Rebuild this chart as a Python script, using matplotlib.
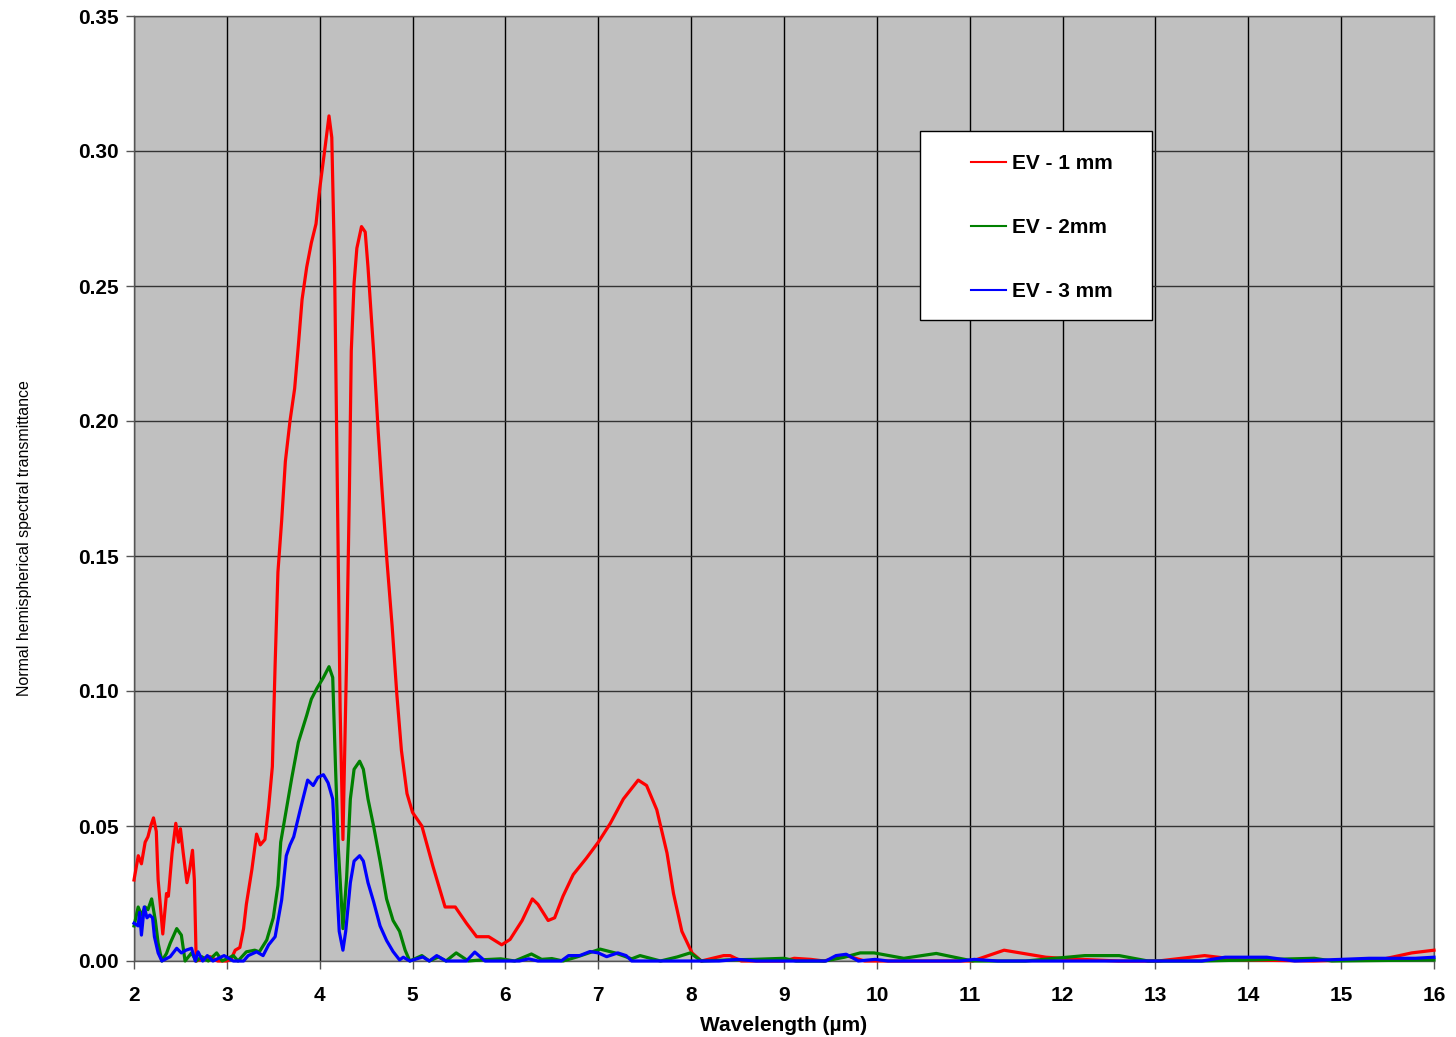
import matplotlib
matplotlib.use("Agg")
import numpy as np
import matplotlib.pyplot as plt
from matplotlib.lines import Line2D
from matplotlib.patches import Rectangle
from matplotlib.legend_handler import HandlerLine2D

# ---------------- data ----------------
red_x = [2.0, 2.046, 2.08, 2.12, 2.15, 2.18, 2.21, 2.24, 2.26, 2.31, 2.35, 2.37, 2.41, 2.45, 2.48, 2.50,
         2.53, 2.57, 2.60, 2.63, 2.65, 2.67, 2.75, 2.82, 2.9, 3.0, 3.05, 3.09, 3.14, 3.18, 3.21, 3.27,
         3.32, 3.36, 3.41, 3.45, 3.49, 3.52, 3.55, 3.59, 3.63, 3.68, 3.73, 3.77, 3.81, 3.86, 3.91, 3.96,
         4.0, 4.06, 4.10, 4.13, 4.16, 4.19, 4.22, 4.25, 4.29, 4.32, 4.34, 4.37, 4.40, 4.45, 4.49, 4.52,
         4.58, 4.63, 4.67, 4.72, 4.78, 4.83, 4.88, 4.94, 5.0, 5.10, 5.22, 5.35, 5.46, 5.58, 5.69, 5.82,
         5.96, 6.05, 6.18, 6.29, 6.35, 6.46, 6.53, 6.62, 6.73, 6.87, 7.0, 7.13, 7.27, 7.43, 7.52, 7.63,
         7.74, 7.81, 7.90, 8.01, 8.11, 8.35, 8.42, 8.54, 9.0, 9.11, 9.29, 9.43, 9.67, 9.87, 11.03, 11.37,
         11.82, 12.08, 12.6, 13.03, 13.53, 13.92, 14.7, 15.44, 15.76, 16.0]
red_y = [0.030, 0.039, 0.036, 0.044, 0.046, 0.050, 0.053, 0.048, 0.030, 0.010, 0.025, 0.024, 0.040, 0.051,
         0.044, 0.049, 0.040, 0.029, 0.034, 0.041, 0.030, 0.0, 0.001, 0.0016, 0.0, 0.0, 0.001, 0.004, 0.005,
         0.012, 0.021, 0.034, 0.047, 0.043, 0.045, 0.057, 0.072, 0.110, 0.144, 0.163, 0.185, 0.200, 0.212,
         0.228, 0.245, 0.257, 0.266, 0.273, 0.286, 0.302, 0.313, 0.305, 0.257, 0.175, 0.093, 0.045, 0.113,
         0.175, 0.226, 0.251, 0.264, 0.272, 0.270, 0.257, 0.226, 0.196, 0.175, 0.150, 0.124, 0.099, 0.078,
         0.062, 0.055, 0.050, 0.035, 0.020, 0.020, 0.014, 0.009, 0.009, 0.006, 0.008, 0.015, 0.023, 0.021,
         0.015, 0.016, 0.024, 0.032, 0.038, 0.044, 0.051, 0.060, 0.067, 0.065, 0.056, 0.040, 0.025, 0.011,
         0.003, 0.0, 0.002, 0.002, 0.0, 0.0, 0.001, 0.0006, 0.0, 0.002, 0.0, 0.0, 0.004, 0.0014, 0.0008,
         0.0, 0.0, 0.002, 0.0004, 0.0, 0.0006, 0.003, 0.004]

green_x = [2.0, 2.045, 2.08, 2.12, 2.15, 2.19, 2.23, 2.26, 2.30, 2.35, 2.39, 2.46, 2.51, 2.55, 2.62, 2.67,
           2.73, 2.8, 2.89, 2.95, 3.07, 3.12, 3.21, 3.30, 3.35, 3.43, 3.50, 3.55, 3.58, 3.63, 3.70, 3.77,
           3.86, 3.91, 3.97, 4.04, 4.10, 4.14, 4.17, 4.20, 4.25, 4.29, 4.33, 4.37, 4.43, 4.47, 4.52, 4.58,
           4.65, 4.72, 4.79, 4.86, 4.92, 4.97, 5.10, 5.18, 5.28, 5.36, 5.47, 5.6, 5.78, 5.95, 6.1, 6.28,
           6.39, 6.5, 6.62, 6.77, 7.02, 7.18, 7.36, 7.45, 7.67, 7.85, 7.99, 8.11, 8.4, 8.67, 9.0, 9.13,
           9.44, 9.65, 9.82, 9.97, 10.29, 10.64, 11.03, 11.6, 12.24, 12.61, 12.92, 13.5, 14.03, 14.71,
           14.9, 16.0]
green_y = [0.013, 0.020, 0.017, 0.020, 0.019, 0.023, 0.015, 0.0066, 0.0, 0.0028, 0.0066, 0.012, 0.0096,
           0.0, 0.003, 0.0, 0.0016, 0.0, 0.003, 0.0, 0.002, 0.0, 0.0034, 0.004, 0.0034, 0.0078, 0.016,
           0.028, 0.044, 0.054, 0.068, 0.081, 0.091, 0.097, 0.101, 0.105, 0.109, 0.105, 0.072, 0.042,
           0.012, 0.031, 0.060, 0.071, 0.074, 0.071, 0.060, 0.050, 0.037, 0.023, 0.015, 0.011, 0.004, 0.0,
           0.002, 0.0, 0.0015, 0.0, 0.003, 0.0, 0.0005, 0.0008, 0.0, 0.0026, 0.0006, 0.0009, 0.0, 0.0015,
           0.0044, 0.003, 0.0008, 0.002, 0.0, 0.0015, 0.003, 0.0, 0.0004, 0.0006, 0.001, 0.0, 0.0, 0.0014,
           0.003, 0.003, 0.001, 0.0028, 0.0, 0.0, 0.002, 0.002, 0.0, 0.0, 0.0004, 0.001, 0.0, 0.0004]

blue_x = [2.0, 2.045, 2.06, 2.08, 2.11, 2.14, 2.17, 2.20, 2.22, 2.26, 2.30, 2.39, 2.46, 2.51, 2.56, 2.62,
          2.66, 2.69, 2.74, 2.79, 2.85, 2.97, 3.07, 3.18, 3.23, 3.32, 3.39, 3.45, 3.52, 3.59, 3.64, 3.68,
          3.72, 3.79, 3.87, 3.93, 3.98, 4.04, 4.09, 4.14, 4.18, 4.21, 4.25, 4.28, 4.33, 4.37, 4.43, 4.47,
          4.52, 4.58, 4.65, 4.72, 4.79, 4.86, 4.90, 4.97, 5.11, 5.18, 5.26, 5.36, 5.58, 5.67, 5.78, 6.15,
          6.25, 6.35, 6.6, 6.68, 6.8, 6.91, 7.0, 7.09, 7.21, 7.3, 7.36, 8.3, 8.5, 8.7, 9.45, 9.56, 9.67,
          9.8, 9.98, 10.12, 10.9, 11.05, 11.3, 13.5, 13.75, 14.2, 14.5, 15.0, 15.3, 15.8, 16.0]
blue_y = [0.014, 0.013, 0.018, 0.0096, 0.020, 0.016, 0.017, 0.016, 0.009, 0.003, 0.0, 0.0016, 0.0047,
          0.003, 0.004, 0.0047, 0.0, 0.0034, 0.0, 0.002, 0.0, 0.002, 0.0, 0.0, 0.002, 0.0034, 0.002, 0.006,
          0.009, 0.0226, 0.039, 0.043, 0.046, 0.056, 0.067, 0.065, 0.068, 0.069, 0.066, 0.060, 0.031, 0.011,
          0.004, 0.011, 0.029, 0.037, 0.039, 0.037, 0.029, 0.022, 0.013, 0.0076, 0.0035, 0.0004, 0.0014,
          0.0, 0.0015, 0.0, 0.002, 0.0, 0.0, 0.0033, 0.0, 0.0, 0.0008, 0.0, 0.0, 0.002, 0.002, 0.0035,
          0.003, 0.0016, 0.003, 0.002, 0.0, 0.0, 0.0006, 0.0, 0.0, 0.002, 0.0025, 0.0, 0.0006, 0.0, 0.0,
          0.0006, 0.0, 0.0, 0.0014, 0.0014, 0.0, 0.0006, 0.001, 0.001, 0.0014]

series_labels = ["EV - 1 mm", "EV - 2mm", "EV - 3 mm"]
x_ticks = list(range(2, 17))
y_ticks = [0.00, 0.05, 0.10, 0.15, 0.20, 0.25, 0.30, 0.35]
x_label = "Wavelength (\u00b5m)"
y_label = "Normal hemispherical spectral transmittance"

# ---------------- figure ----------------
plt.rcParams['font.family'] = ['Liberation Sans', 'DejaVu Sans']

fig = plt.figure(figsize=(14.56, 10.37), dpi=100)
ax = fig.add_axes([134 / 1456, 76 / 1037, 1300 / 1456, 945 / 1037])
ax.set_facecolor('#C0C0C0')

colors = ['#FF0000', '#008000', '#0000FF']
for xs, ys, c, lab in zip([red_x, green_x, blue_x], [red_y, green_y, blue_y], colors, series_labels):
    ax.plot(xs, ys, color=c, lw=2.3, label=lab, clip_on=False, zorder=3, solid_joinstyle='round')

ax.set_xlim(2, 16)
ax.set_ylim(0, 0.35)
ax.set_xticks(x_ticks)
ax.set_yticks(y_ticks)
ax.set_xticklabels([str(v) for v in x_ticks], fontsize=15, fontweight='bold')
ax.set_yticklabels([f"{v:.2f}" for v in y_ticks], fontsize=15, fontweight='bold')
ax.tick_params(axis='both', direction='out', length=6, width=1, color='#555555')
ax.tick_params(axis='x', pad=12)
ax.tick_params(axis='y', pad=5)

ax.xaxis.grid(True, color='black', lw=1.0, zorder=1)
ax.yaxis.grid(True, color='#333333', lw=1.0, zorder=1)
ax.set_axisbelow(True)
for s in ax.spines.values():
    s.set_color('#555555')
    s.set_linewidth(1.0)

ax.set_xlabel(x_label, fontsize=15, fontweight='bold', labelpad=8)
fig.text(25 / 1456, 1 - 538 / 1037, y_label, rotation=90, ha='center', va='center', fontsize=11.5)


class ShortLineHandler(HandlerLine2D):
    """Legend handle whose line only fills the right part of the handle box."""
    def create_artists(self, legend, orig_handle, xdescent, ydescent, width, height, fontsize, trans):
        artists = super().create_artists(legend, orig_handle, xdescent, ydescent, width, height,
                                         fontsize, trans)
        for a in artists:
            xd = np.asarray(a.get_xdata(), dtype=float)
            if len(xd) >= 2:
                a.set_xdata(np.linspace(xd[0] + 0.45 * (xd[-1] - xd[0]), xd[-1], len(xd)))
        return artists


# legend box (white, black edge)
box_x0, box_y0 = (920 - 134) / 1300, (961 - 320) / 945
box = Rectangle((box_x0, box_y0), 232 / 1300, 189 / 945, transform=ax.transAxes,
                facecolor='white', edgecolor='black', lw=1.0, zorder=6, clip_on=False)
ax.add_patch(box)

handles = [Line2D([0], [0], color=c, lw=1.5) for c in colors]
leg = ax.legend(handles, series_labels, loc='upper left',
                bbox_to_anchor=((920 - 134) / 1300, (961 - 131) / 945),
                frameon=False,
                prop={'family': 'Liberation Sans', 'weight': 'bold', 'size': 15},
                labelspacing=2.15, handlelength=3.0, handletextpad=0.3, borderpad=1.12,
                borderaxespad=0, handler_map={Line2D: ShortLineHandler()})
leg.set_zorder(7)
fig.savefig('out.png', dpi=100)
